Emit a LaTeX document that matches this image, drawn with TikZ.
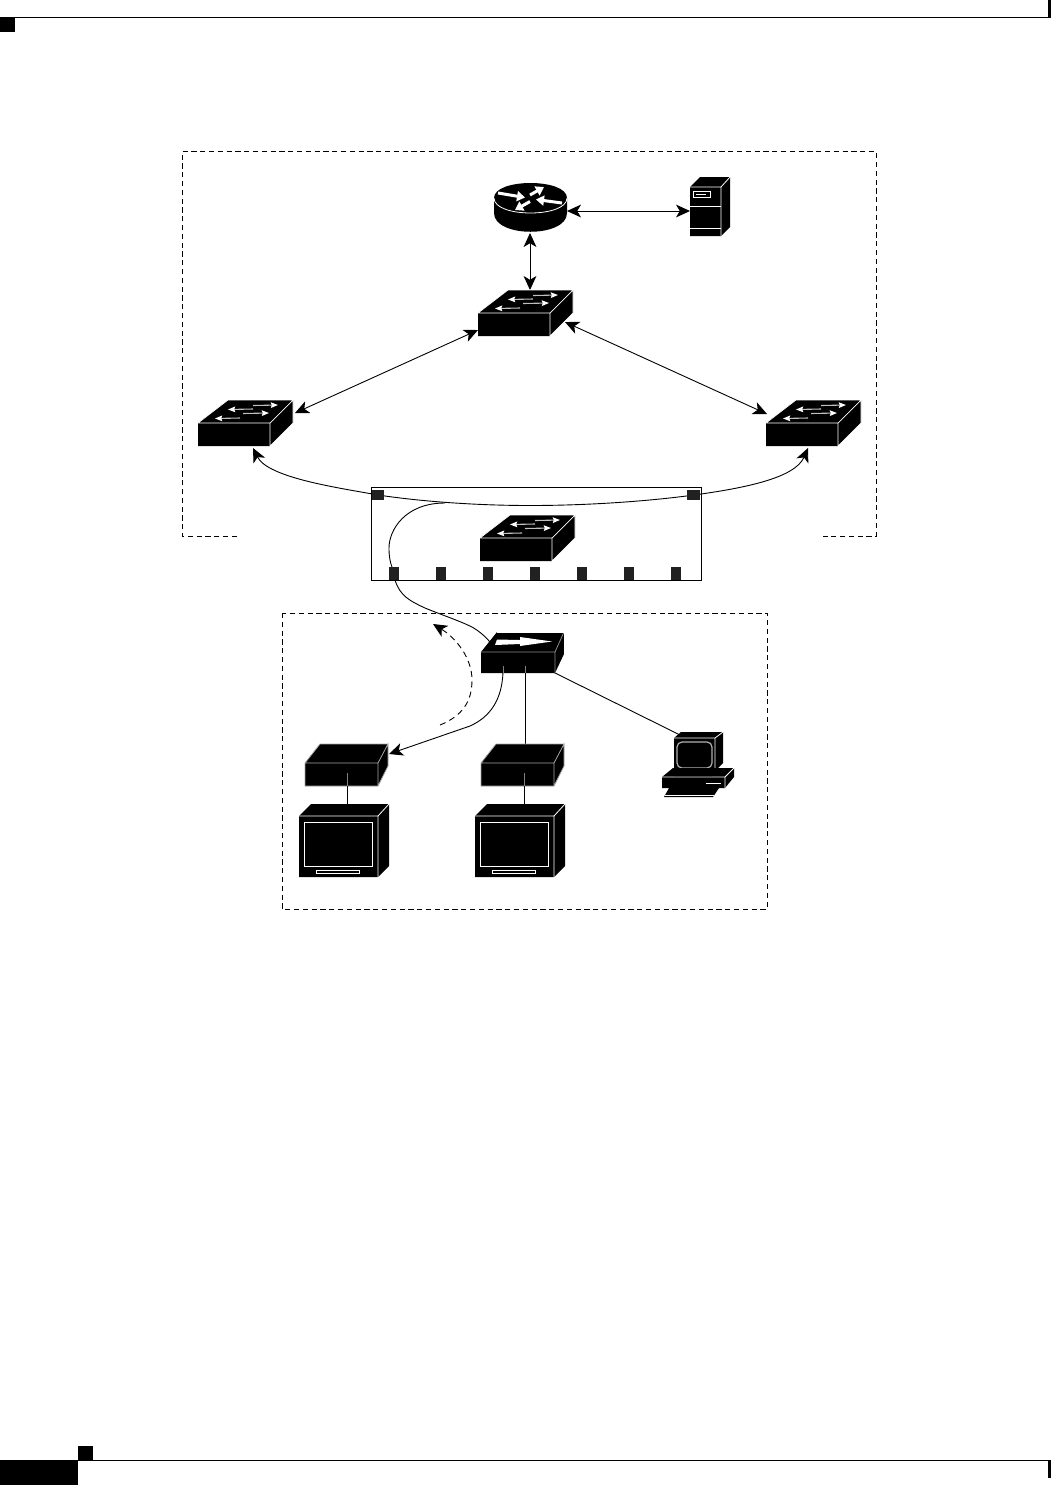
\documentclass[tikz,border=0pt]{standalone}
\usetikzlibrary{arrows.meta}
\tikzset{
  x=0.5pt,y=-0.5pt,
  link/.style={line width=0.45pt,black},
  headtip/.tip={Stealth[length=7pt,width=6.4pt,inset=1.9pt]},
  dbl/.style={link,headtip-headtip},
  sgl/.style={link,-headtip},
  zone/.style={line width=0.4pt,dash pattern=on 2.6pt off 1.8pt},
  body/.style={fill=black,draw=none},
  port/.style={fill=black!87,draw=none},
  tiny/.style={-{Stealth[length=3.6pt,width=2.8pt,inset=0.5pt,color=white]},black!25,line width=0.55pt},
  rarrow/.style={white,line width=1.5pt,-{Stealth[length=4pt,width=5pt,inset=0pt]}},
  pics/switchicon/.style={code={
    \fill[body] (0,0) -- (30,-23) -- (95,-23) -- (95,0) -- (72,23) -- (0,23) -- cycle;
    \draw[white,line width=0.35pt] (0,0) -- (72,0) -- (72,23) (72,0) -- (95,-23) -- (95,0) -- (72,23) (0,0)--(30,-23)--(95,-23);
    \draw[tiny] (55,-17.5) -- (80,-18);
    \draw[tiny] (55,-14) -- (30,-13.5);
    \draw[tiny] (45,-9.5) -- (71,-10);
    \draw[tiny] (42,-5) -- (17,-4.5);
  }},
  pics/mediabox/.style={code={
    \fill[black] (0,0) -- (15,-19) -- (83,-19) -- (83,3) -- (73,23) -- (0,23) -- cycle;
    \draw[black!35,line width=0.4pt] (0,0)--(73,0)--(73,23)--(0,23)--cycle (73,0)--(83,-19)--(83,3)--(73,23) (0,0)--(15,-19)--(83,-19);
  }},
  pics/monitoricon/.style={code={
    \fill[black] (0,0) -- (12,-12) -- (90,-12) -- (90,50) -- (79,61) -- (0,61) -- cycle;
    \draw[white,line width=0.4pt] (0,0) -- (79,0) -- (79,61) (79,0) -- (90,-12);
    \draw[white,line width=0.5pt] (5,6) rectangle (73,50);
    \draw[white,line width=0.5pt] (17,54) rectangle (60,57);
  }}
}
\begin{document}
\begin{tikzpicture}
\useasboundingbox (0,0) rectangle (1051,1485);
% page furniture
\fill[black] (0,17) rectangle (15,32);
\draw[line width=0.5pt] (0,17.5) -- (1048,17.5);
\fill[black] (1048,0) rectangle (1051,18);
\fill[black] (0,1460) rectangle (78,1485);
\fill[black] (78,1446) rectangle (93,1460);
\draw[line width=0.5pt] (78,1460.5) -- (1048,1460.5);
\fill[black] (1048,1460) rectangle (1051,1478);
% zones
\draw[zone] (237,536) -- (182,536) -- (182,151.5) -- (876,151.5) -- (876,536) -- (823,536);
\draw[zone] (282,613) rectangle (767,909);
% chassis
\draw[line width=0.5pt] (371.5,487) rectangle (701,580);
% anchors
\coordinate (routerC) at (530,233);
\coordinate (swTop) at (530,290);
\coordinate (routerR) at (567,211);
\coordinate (srvL) at (690,211);
\coordinate (coreL) at (478,330);
\coordinate (leftR) at (295,413);
\coordinate (coreR) at (565,322);
\coordinate (rightL) at (767,414);
\coordinate (leftB) at (253,448);
\coordinate (rightB) at (808,448);
\coordinate (accessL) at (503,672);
\coordinate (accessB) at (525,672);
\coordinate (accessR) at (545,668);
\coordinate (pcT) at (680,735);
\coordinate (boxA) at (389,754);
\coordinate (boxBt) at (525,750);
% links
\draw[dbl] (routerC) -- (swTop);
\draw[dbl] (routerR) -- (srvL);
\draw[dbl] (coreL) -- (leftR);
\draw[dbl] (coreR) -- (rightL);
\draw[dbl]
  (leftB) .. controls (268,478) and (340,488) .. (378,495)
  .. controls (425,502) and (480,505.5) .. (530,505.5)
  .. controls (590,505.5) and (650,501) .. (694,495)
  .. controls (745,488) and (795,478) .. (rightB);
\draw[link] (445,503) .. controls (405,503) and (389,530) .. (389,548) .. controls (389,556) and (390,562) .. (392,567);
\draw[link] (395,580) .. controls (400,596) and (410,601) .. (425,608) .. controls (442,615) and (460,621) .. (472,627) .. controls (479,631) and (485,636) .. (490,642);
\draw[sgl] (accessL) .. controls (502,700) and (490,717) .. (470,726) -- (boxA);
\draw[link] (accessB) -- (boxBt);
\draw[link] (accessR) -- (pcT);
\draw[link,dash pattern=on 3pt off 2.2pt,-headtip] (440,725) .. controls (462,716) and (472,702) .. (472,680) .. controls (472,658) and (456,638) .. (433,624);
% router
\fill[black] (494,198) -- (494,213) .. controls (494,238) and (567,238) .. (567,213) -- (567,198) .. controls (567,178) and (494,178) .. (494,198) -- cycle;
\draw[white,line width=0.4pt] (494,198) .. controls (494,218) and (567,218) .. (567,198);
\draw[rarrow] (498,193) -- (525,197.5);
\draw[rarrow] (530,195) -- (544,187);
\draw[rarrow] (562,203) -- (536,199.5);
\draw[rarrow] (530,201.5) -- (515,210);
% server
\fill[black] (690,187) -- (700,177) -- (730,177) -- (730,227) -- (721,236) -- (690,236) -- cycle;
\draw[white,line width=0.4pt] (690,187) -- (721,187) -- (721,236) (721,187) -- (730,177);
\draw[white,line width=0.5pt] (690,206) -- (721,206) (690,228.5) -- (721,228.5);
\draw[white,line width=0.4pt] (693,191) rectangle (710,197) (696,194) -- (706,194);
% switches
\pic at (478,313) {switchicon};
\pic at (198,423) {switchicon};
\pic at (766,423) {switchicon};
\pic at (480,538) {switchicon};
% ports
\fill[port] (372,490) rectangle (384,500);
\fill[port] (687,490) rectangle (700,500);
\foreach \px in {389,436,483,530,577,624,671} \fill[port] (\px,567) rectangle (\px+10,580);
% access device
\fill[black] (481,652) -- (497,632) -- (564,632) -- (564,654) -- (555,673) -- (481,673) -- cycle;
\draw[black!45,line width=0.4pt] (481,652) -- (555,652) -- (555,673) (555,652) -- (564,632);
\draw[white,line width=0.3pt] (497,632)--(564,632)--(564,654);
\fill[white] (497,639.5) -- (520,640) -- (520,637) -- (552,641.5) -- (520,646) -- (520,644) -- (495,645) -- cycle;
\draw[black!50,line width=0.3pt] (503,666) -- (503,673) (525,666) -- (525,673);
% media boxes and monitors
\pic at (305,763) {mediabox};
\pic at (481,763) {mediabox};
\pic at (299,816) {monitoricon};
\pic at (475,816) {monitoricon};
\draw[link] (347,786) -- (347,809);
\draw[link] (524.5,786) -- (524.5,809);
\draw[black!50,line width=0.3pt] (347,773) -- (347,786) (524.5,773) -- (524.5,786);
% workstation
\fill[black] (674,738) -- (681,732) -- (723,732) -- (723,763) -- (715,771) -- (674,771) -- cycle;
\draw[white,line width=0.4pt] (674,738) -- (715,738) -- (715,771) (715,738) -- (723,732);
\draw[black!30!white,line width=0.6pt,rounded corners=2.5pt] (677,742) rectangle (712,768);
\fill[black] (662,777) -- (673,768) -- (734,768) -- (734,777) -- (725,788) -- (662,788) -- cycle;
\draw[white,line width=0.4pt] (662,777) -- (725,777) -- (725,788) (725,777) -- (734,768);
\draw[white,line width=0.5pt] (706,783) -- (721,783);
\fill[black] (669,788) -- (719,788) -- (713,797) -- (664,797) -- cycle;
\draw[white,line width=0.4pt] (665,795) -- (714,795);
\fill[black] (674,771) -- (715,771) -- (712,776) -- (674,776) -- cycle;
\end{tikzpicture}
\end{document}
